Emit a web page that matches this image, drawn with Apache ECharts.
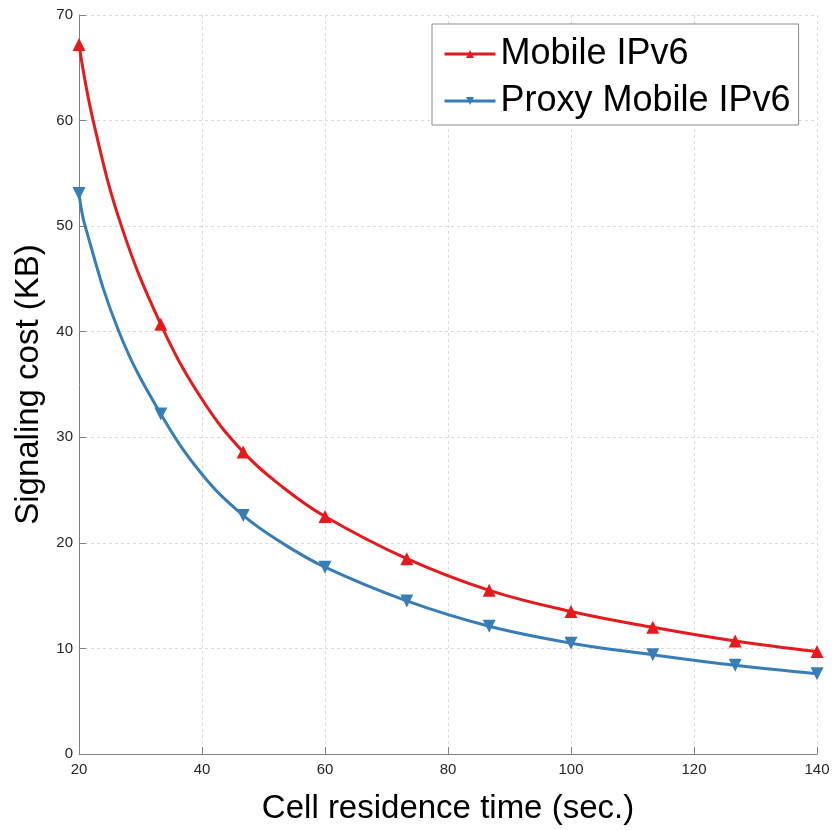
<!DOCTYPE html>
<html>
<head>
<meta charset="utf-8">
<script src="https://cdn.jsdelivr.net/npm/echarts@6/dist/echarts.min.js"></script>
<style>html,body{margin:0;padding:0;background:#fff;}#chart{width:834px;height:830px;}</style>
</head>
<body>
<div id="chart"></div>
<script>
// Cell residence time (sec.) at the marked points
const residenceTime = [20, 33.3, 46.7, 60, 73.3, 86.7, 100, 113.3, 126.7, 140];
// Signaling cost (KB) at the marked points
const mobileIPv6 = [67.2, 40.7, 28.6, 22.5, 18.5, 15.5, 13.5, 12.0, 10.7, 9.7];
const proxyMobileIPv6 = [53.1, 32.2, 22.6, 17.7, 14.5, 12.1, 10.5, 9.4, 8.4, 7.6];
// extra unmarked points (where they cross gridlines)
const mobileExtraX = [22.3, 26.9, 40, 53.3];
const mobileExtraY = [60, 50, 33.6, 25.2];
const proxyExtraX = [21.0, 26.5, 40, 53.0];
const proxyExtraY = [50, 40, 26.5, 20];
const xTicks = [20, 40, 60, 80, 100, 120, 140];
const yTicks = [0, 10, 20, 30, 40, 50, 60, 70];

const FONT = '"Liberation Sans", Arial, Helvetica, sans-serif';
function buildData(mx, my, ex, ey) {
  const pts = mx.map((x, i) => ({value: [x, my[i]]}))
    .concat(ex.map((x, i) => ({value: [x, ey[i]], symbol: 'none'})));
  pts.sort((a, b) => a.value[0] - b.value[0]);
  return pts;
}

const chart = echarts.init(document.getElementById('chart'), null, {renderer: 'canvas'});
chart.setOption({
  animation: false,
  backgroundColor: '#ffffff',
  grid: {left: 79, right: 17, top: 15, bottom: 74, containLabel: false},
  legend: {
    orient: 'vertical',
    left: 432, top: 24,
    padding: [10, 8, 4, 11],
    backgroundColor: '#ffffff',
    borderColor: '#8c8c8c', borderWidth: 1,
    itemWidth: 51, itemHeight: 10, itemGap: 7,
    lineStyle: {width: 3},
    textStyle: {fontFamily: FONT, fontSize: 36, color: '#000', lineHeight: 40},
    data: ['Mobile IPv6', 'Proxy Mobile IPv6']
  },
  xAxis: {
    type: 'value', min: xTicks[0], max: xTicks[xTicks.length - 1], interval: 20,
    name: 'Cell residence time (sec.)', nameLocation: 'middle', nameGap: 38,
    nameTextStyle: {fontFamily: FONT, fontSize: 33, color: '#000'},
    axisLine: {show: true, lineStyle: {color: '#808080', width: 1}},
    axisTick: {show: true, inside: true, length: 7, lineStyle: {color: '#808080'}},
    axisLabel: {fontFamily: FONT, fontSize: 15, color: '#262626', margin: 8},
    splitLine: {show: true, lineStyle: {color: '#dadada', type: [3, 3], width: 1}}
  },
  yAxis: {
    type: 'value', min: yTicks[0], max: yTicks[yTicks.length - 1], interval: 10,
    name: 'Signaling cost (KB)', nameLocation: 'middle', nameGap: 28,
    nameTextStyle: {fontFamily: FONT, fontSize: 33, color: '#000'},
    axisLine: {show: true, lineStyle: {color: '#808080', width: 1}},
    axisTick: {show: true, inside: true, length: 7, lineStyle: {color: '#808080'}},
    axisLabel: {fontFamily: FONT, fontSize: 15, color: '#262626', margin: 6},
    splitLine: {show: true, lineStyle: {color: '#dadada', type: [3, 3], width: 1}}
  },
  series: [
    {
      name: 'Mobile IPv6', type: 'line', smooth: 0.4,
      data: buildData(residenceTime, mobileIPv6, mobileExtraX, mobileExtraY),
      symbol: 'triangle', symbolSize: 13,
      lineStyle: {color: '#e41a1c', width: 3},
      itemStyle: {color: '#e41a1c'}
    },
    {
      name: 'Proxy Mobile IPv6', type: 'line', smooth: 0.4,
      data: buildData(residenceTime, proxyMobileIPv6, proxyExtraX, proxyExtraY),
      symbol: 'triangle', symbolRotate: 180, symbolSize: 13,
      lineStyle: {color: '#377eb8', width: 3},
      itemStyle: {color: '#377eb8'}
    }
  ]
});
</script>
</body>
</html>
